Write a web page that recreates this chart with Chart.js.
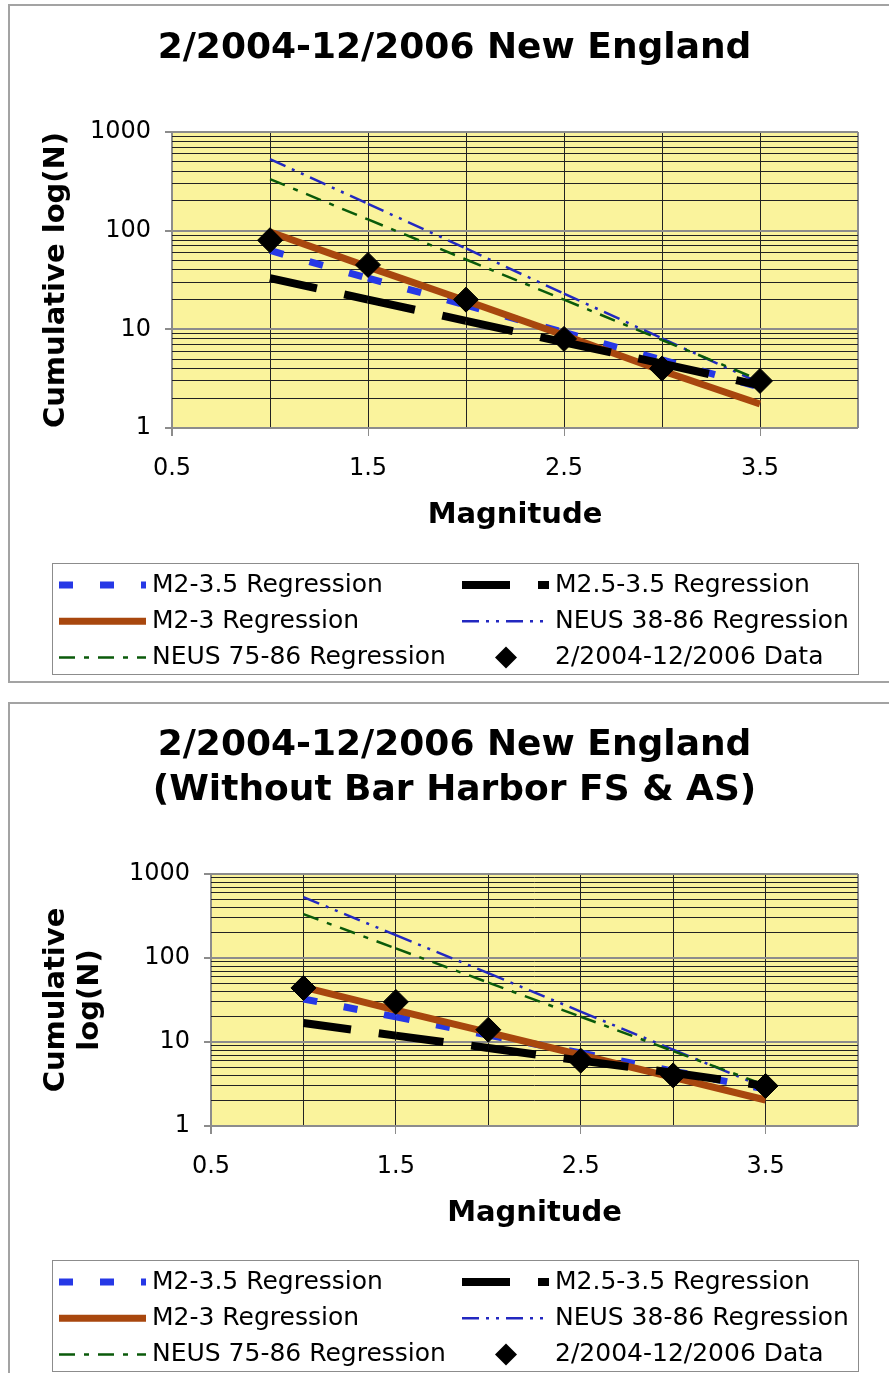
<!DOCTYPE html>
<html>
<head>
<meta charset="utf-8">
<script src="https://cdn.jsdelivr.net/npm/chart.js@4"></script>
<style>
  body { margin: 0; background: #fff; width: 889px; height: 1373px; overflow: hidden; position: relative; }
  .frame { position: absolute; left: 8px; width: 900px; border: 2px solid #a3a3a3; box-sizing: border-box; }
  canvas { position: absolute; left: 0; }
</style>
</head>
<body>
<div class="frame" style="top:4px;height:679px"></div>
<div class="frame" style="top:702px;height:700px"></div>
<canvas id="chartAll" width="889" height="690" style="top:0"></canvas>
<canvas id="chartNoBH" width="889" height="683" style="top:690px"></canvas>
<script>
const MAGNITUDES = [1.0, 1.5, 2.0, 2.5, 3.0, 3.5]
const X_GRID = [0.5, 1, 1.5, 2, 2.5, 3, 3.5, 4]
const X_LABELS = [0.5, 1.5, 2.5, 3.5]
const Y_GRID = [1, 2, 3, 4, 5, 6, 7, 8, 9, 10, 20, 30, 40, 50, 60, 70, 80, 90,
  100, 200, 300, 400, 500, 600, 700, 800, 900, 1000]
const Y_LABELS = [1, 10, 100, 1000]

// all events 2/2004-12/2006
const allM2to35 = [63, 33, 17.6, 9.3, 4.9, 2.6]
const allM25to35 = [33, 20, 12.2, 7.4, 4.5, 2.7]
const allM2to3 = [97, 43, 19.5, 8.7, 3.8, 1.75]
const allData = [80, 45, 20, 8, 4, 3]

// without Bar Harbor fore- and aftershocks
const nbhM2to35 = [32.5, 19.9, 12.1, 7.4, 4.5, 2.75]
const nbhM25to35 = [16.8, 11.9, 8.5, 6.0, 4.3, 3.0]
const nbhM2to3 = [45, 24, 13, 7, 3.8, 2.04]
const nbhData = [44, 30, 14, 6, 4, 3]

// historic NEUS regressions, same on both charts
const neus3886 = [531, 187, 66, 23, 8.1, 2.86]
const neus7586 = [333, 130, 51, 20, 7.8, 3.06]

Chart.defaults.font.family = "'DejaVu Sans', Verdana, sans-serif"
Chart.defaults.color = '#000'

const GRID_DARK = '#222'
const GRID_GRAY = '#8c8c8c'
const CLEAR = 'rgba(0,0,0,0)'
const PAD_LEFT = 51

function toPoints(values) {
  return MAGNITUDES.map((m, i) => ({ x: m, y: values[i] }))
}

// excel starts the dash pattern again at every point, so split the segments
function restartDash(ctx) {
  return ctx.p0DataIndex % 2 ? 0.001 : 0
}

function lineSet(label, values, color, width, dash, order) {
  return {
    label: label,
    data: toPoints(values),
    borderColor: color,
    backgroundColor: color,
    borderWidth: width,
    borderDash: dash,
    borderCapStyle: 'butt',
    pointRadius: 0,
    order: order,
    segment: { borderDashOffset: restartDash }
  }
}

function makeDatasets(m2to35, m25to35, m2to3, data) {
  return [
    lineSet('M2-3.5 Regression', m2to35, '#2638e6', 7, [14, 27], 3),
    lineSet('M2.5-3.5 Regression', m25to35, '#000000', 8, [48, 28], 1),
    lineSet('M2-3 Regression', m2to3, '#a8470e', 7, [], 2),
    lineSet('NEUS 38-86 Regression', neus3886, '#2228c0', 2.5, [17, 7, 3, 7, 3, 7], 5),
    lineSet('NEUS 75-86 Regression', neus7586, '#0a5a0a', 2.5, [16, 9, 5, 9], 4),
    {
      label: '2/2004-12/2006 Data',
      data: toPoints(data),
      showLine: false,
      pointStyle: 'rectRot',
      pointRadius: 12.5,
      pointBackgroundColor: '#000',
      pointBorderColor: '#000',
      pointBorderWidth: 1,
      order: 0
    }
  ]
}

const plotBackground = {
  id: 'plotBackground',
  beforeDraw(chart) {
    const { ctx, chartArea: a } = chart
    ctx.save()
    ctx.fillStyle = '#faf39c'
    ctx.fillRect(a.left, a.top, a.width, a.height)
    ctx.restore()
  }
}

// two column legend in a box, like the spreadsheet one
const gridLegend = {
  id: 'gridLegend',
  afterDraw(chart, args, opts) {
    const ctx = chart.ctx
    const top = chart.chartArea.bottom + opts.offset
    ctx.save()
    ctx.strokeStyle = '#8c8c8c'
    ctx.lineWidth = 1
    ctx.strokeRect(52.5, top + 0.5, 806, 111)
    ctx.font = "25px 'DejaVu Sans'"
    ctx.textBaseline = 'middle'
    chart.data.datasets.forEach((ds, k) => {
      const x0 = k % 2 ? 462 : 59
      const y = top + 22 + Math.floor(k / 2) * 36.3
      if (ds.showLine === false) {
        ctx.fillStyle = ds.pointBackgroundColor
        ctx.beginPath()
        ctx.moveTo(x0 + 44 - 11, y)
        ctx.lineTo(x0 + 44, y - 11)
        ctx.lineTo(x0 + 44 + 11, y)
        ctx.lineTo(x0 + 44, y + 11)
        ctx.closePath()
        ctx.fill()
      } else {
        ctx.strokeStyle = ds.borderColor
        ctx.lineWidth = ds.borderWidth
        ctx.lineCap = 'butt'
        ctx.setLineDash(ds.borderDash)
        ctx.beginPath()
        ctx.moveTo(x0, y)
        ctx.lineTo(x0 + 87, y)
        ctx.stroke()
        ctx.setLineDash([])
      }
      ctx.fillStyle = '#000'
      ctx.fillText(ds.label, x0 + 93, y)
    })
    ctx.restore()
  }
}

function makeChart(id, opt) {
  return new Chart(document.getElementById(id), {
    type: 'line',
    data: { datasets: opt.datasets },
    plugins: [plotBackground, gridLegend],
    options: {
      responsive: false,
      animation: false,
      layout: { padding: { left: PAD_LEFT, right: 31, top: 0, bottom: opt.bottomPad } },
      plugins: {
        legend: { display: false },
        tooltip: { enabled: false },
        title: {
          display: true,
          text: opt.title,
          color: '#000',
          font: { size: 36, weight: 'bold', lineHeight: 1.25 },
          padding: { top: opt.titleTop, bottom: 61 }
        },
        gridLegend: { offset: opt.legendOffset }
      },
      scales: {
        x: {
          type: 'linear',
          min: 0.5,
          max: 4,
          afterBuildTicks: s => { s.ticks = X_GRID.map(v => ({ value: v })) },
          afterFit: s => { s.height = 110 },
          ticks: {
            autoSkip: false,
            maxRotation: 0,
            padding: 18,
            font: { size: 24 },
            callback: v => X_LABELS.includes(v) ? v.toFixed(1) : ''
          },
          grid: {
            color: c => (c.tick.value === 0.5 || c.tick.value === 4) ? GRID_GRAY : GRID_DARK,
            lineWidth: c => (c.tick.value === 0.5 || c.tick.value === 4) ? 2 : 1,
            tickLength: 8,
            tickColor: c => X_LABELS.includes(c.tick.value) ? GRID_GRAY : CLEAR
          },
          border: { display: false },
          title: {
            display: true,
            text: 'Magnitude',
            font: { size: 29, weight: 'bold' },
            padding: { top: 0, bottom: 5 }
          }
        },
        y: {
          type: 'logarithmic',
          min: 1,
          max: 1000,
          afterBuildTicks: s => { s.ticks = Y_GRID.map(v => ({ value: v })) },
          afterFit: s => { s.width = opt.plotLeft - PAD_LEFT },
          ticks: {
            autoSkip: false,
            padding: 14,
            font: { size: 24 },
            callback: v => Y_LABELS.includes(v) ? String(v) : ''
          },
          grid: {
            color: c => Y_LABELS.includes(c.tick.value) ? GRID_GRAY : GRID_DARK,
            lineWidth: c => Y_LABELS.includes(c.tick.value) ? 2 : 1,
            tickLength: 7,
            tickColor: c => Y_LABELS.includes(c.tick.value) ? GRID_GRAY : CLEAR
          },
          border: { display: false },
          title: {
            display: true,
            text: opt.yTitle,
            font: { size: 29, weight: 'bold' },
            // title centre sits about 56px from the canvas edge
            padding: { top: 56 - PAD_LEFT - 17.4, bottom: 0 }
          }
        }
      }
    }
  })
}

makeChart('chartAll', {
  datasets: makeDatasets(allM2to35, allM25to35, allM2to3, allData),
  title: '2/2004-12/2006 New England',
  titleTop: 26,
  yTitle: 'Cumulative log(N)',
  plotLeft: 172,
  legendOffset: 135,
  bottomPad: 690 - 428 - 110
})

makeChart('chartNoBH', {
  datasets: makeDatasets(nbhM2to35, nbhM25to35, nbhM2to3, nbhData),
  title: ['2/2004-12/2006 New England', '(Without Bar Harbor FS & AS)'],
  titleTop: 33,
  yTitle: ['Cumulative', 'log(N)'],
  plotLeft: 211,
  legendOffset: 134,
  bottomPad: 683 - 436 - 110
})
</script>
</body>
</html>
